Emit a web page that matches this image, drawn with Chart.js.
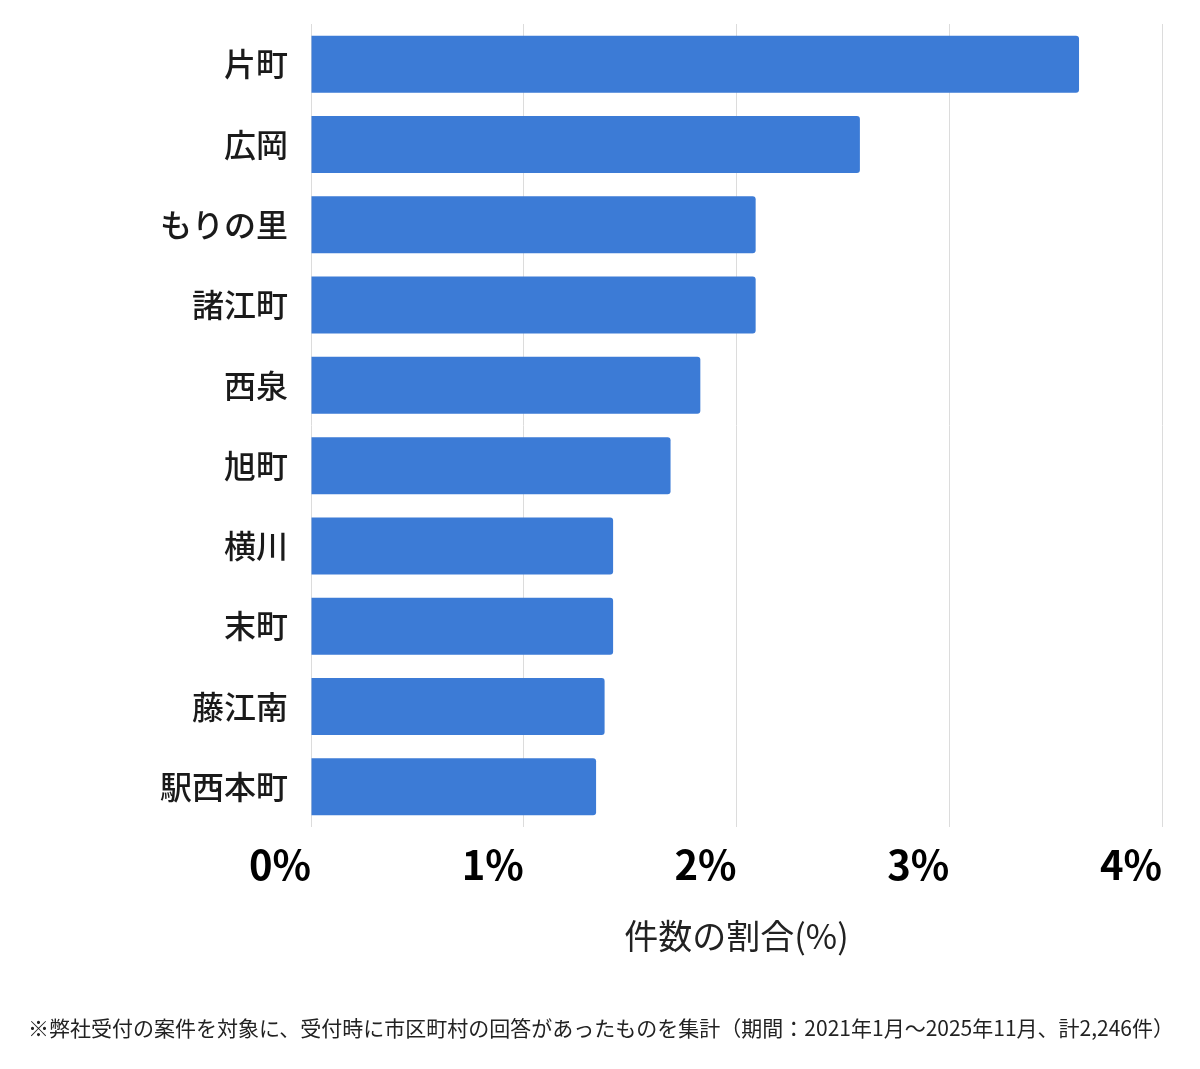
<!DOCTYPE html>
<html lang="ja">
<head>
    <meta charset="UTF-8">
    <title>件数の割合</title>
    <script src="https://cdn.jsdelivr.net/npm/chart.js"></script>
    <style>
        html, body {
            margin: 0;
            padding: 0;
            background: #ffffff;
        }
        .chart-container {
            width: 1200px;
            height: 1069px;
            position: relative;
        }
    </style>
</head>
<body>
    <div class="chart-container">
        <canvas id="barChart"></canvas>
    </div>
    <script>
        // 町名と割合(%) — 合計 2,246件
        const areas = ["片町", "広岡", "もりの里", "諸江町", "西泉", "旭町", "横川", "末町", "藤江南", "駅西本町"];
        const shares = [3.61, 2.58, 2.09, 2.09, 1.83, 1.69, 1.42, 1.42, 1.38, 1.34];
        const xTicks = [0, 1, 2, 3, 4];
        const axisTitle = "件数の割合(%)";
        const footnote = "※弊社受付の案件を対象に、受付時に市区町村の回答があったものを集計（期間：2021年1月〜2025年11月、計2,246件）";

        const jpFont = "'Noto Sans CJK JP', 'Noto Sans', sans-serif";

        // 注記はキャンバス中央に描く
        const footnotePlugin = {
            id: 'footnote',
            afterDraw(chart) {
                const ctx = chart.ctx;
                ctx.save();
                ctx.font = "21px " + jpFont;
                ctx.fillStyle = '#222222';
                ctx.textAlign = 'center';
                ctx.textBaseline = 'middle';
                ctx.fillText(footnote, 601, 1028);
                ctx.restore();
            }
        };

        const config = {
            type: 'bar',
            data: {
                labels: areas,
                datasets: [{
                    label: "割合",
                    data: shares,
                    backgroundColor: "#3c7bd6",
                    borderRadius: 3,
                    borderSkipped: 'start',
                    barPercentage: 0.71,
                    categoryPercentage: 1.0
                }]
            },
            options: {
                indexAxis: 'y',
                responsive: true,
                maintainAspectRatio: false,
                animation: false,
                layout: {
                    padding: { top: 24, right: 38, left: 0, bottom: 91 }
                },
                plugins: {
                    legend: { display: false },
                    tooltip: { enabled: false },
                    title: { display: false }
                },
                scales: {
                    x: {
                        min: 0,
                        max: 4,
                        afterBuildTicks: (scale) => {
                            scale.ticks = xTicks.map(v => ({ value: v }));
                        },
                        afterFit: (scale) => { scale.height = 151; },
                        border: { display: false },
                        grid: {
                            color: '#dcdcdc',
                            lineWidth: 1,
                            drawTicks: false
                        },
                        ticks: {
                            align: 'end',
                            padding: 14,
                            color: '#000000',
                            font: { family: jpFont, size: 40, weight: 'bold' },
                            callback: (v) => v + '%'
                        },
                        title: {
                            display: true,
                            text: axisTitle,
                            color: '#222222',
                            font: { family: jpFont, size: 34, weight: 'normal' },
                            padding: { top: 0, bottom: 22 }
                        }
                    },
                    y: {
                        afterFit: (scale) => {
                            scale.width = 311;
                            scale.paddingTop = 0;
                            scale.paddingBottom = 0;
                        },
                        border: { display: false },
                        grid: { display: false, drawTicks: false },
                        ticks: {
                            padding: 23,
                            color: '#1a1a1a',
                            font: { family: jpFont, size: 32, weight: '500' }
                        }
                    }
                }
            },
            plugins: [footnotePlugin]
        };

        new Chart(document.getElementById('barChart'), config);
    </script>
</body>
</html>
